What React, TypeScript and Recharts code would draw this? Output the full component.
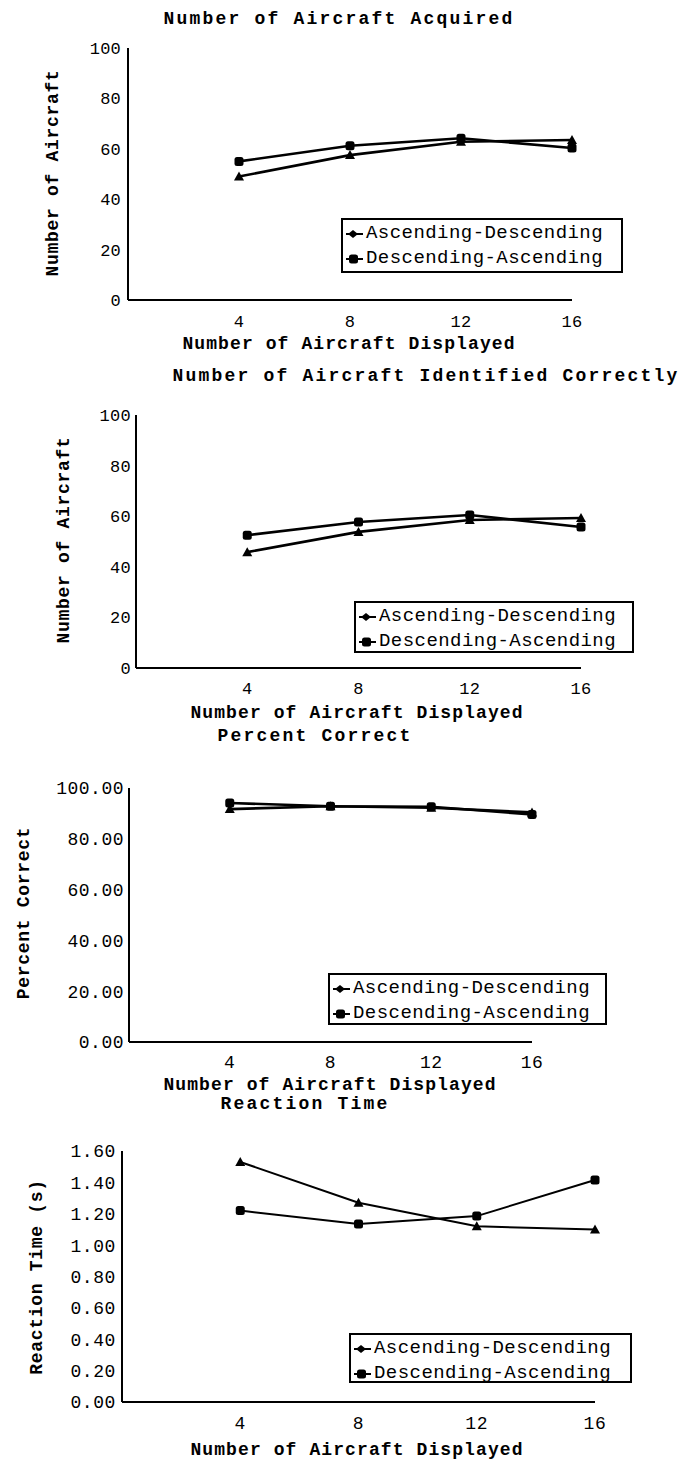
import React from "react";
import { Legend, Line, LineChart, XAxis, YAxis } from "recharts";

// number of aircraft displayed (x axis)
const displayed = [4, 8, 12, 16];
const xTicks = [4, 8, 12, 16];
const countTicks = [0, 20, 40, 60, 80, 100];
const timeTicks = [0, 0.2, 0.4, 0.6, 0.8, 1.0, 1.2, 1.4, 1.6];

const seriesNames = ["Ascending-Descending", "Descending-Ascending"];

const acquiredAscDesc = [49, 57.5, 62.8, 63.5];
const acquiredDescAsc = [55, 61.2, 64.2, 60.3];

const identifiedAscDesc = [45.8, 53.8, 58.5, 59.3];
const identifiedDescAsc = [52.5, 57.7, 60.5, 55.7];

const percentAscDesc = [91.7, 92.8, 92.2, 90.4];
const percentDescAsc = [94.1, 92.8, 92.6, 89.6];

const reactionAscDesc = [1.53, 1.27, 1.12, 1.1];
const reactionDescAsc = [1.22, 1.135, 1.185, 1.415];

const FONT = '"Liberation Mono", "DejaVu Sans Mono", monospace';
const W = 685;

type Row = { n: number; asc: number; desc: number };

const rows = (a: number[], d: number[]): Row[] =>
  displayed.map((n, i) => ({ n, asc: a[i], desc: d[i] }));

function TriDot(props: any) {
  const { cx, cy } = props;
  if (cx == null || cy == null) return null;
  return <path d={`M${cx},${cy - 5} L${cx + 5},${cy + 4} L${cx - 5},${cy + 4} Z`} fill="#000" />;
}

function SquareDot(props: any) {
  const { cx, cy } = props;
  if (cx == null || cy == null) return null;
  return <rect x={cx - 4.5} y={cy - 4.5} width={9} height={9} rx={2.5} fill="#000" />;
}

function LegendBox({ w, h }: { w: number; h: number }) {
  return (
    <div
      style={{
        boxSizing: "border-box",
        width: w,
        height: h,
        border: "2px solid #000",
        background: "#fff",
        fontFamily: FONT,
        fontSize: 19,
        letterSpacing: 0.45,
        color: "#000",
        paddingTop: 1,
        paddingLeft: 1,
      }}
    >
      {seriesNames.map((name, i) => (
        <div key={name} style={{ display: "flex", alignItems: "center", height: 25, lineHeight: 1 }}>
          <svg width={22} height={14} style={{ flex: "none" }}>
            <line x1={2} y1={7} x2={19} y2={7} stroke="#000" strokeWidth={2} />
            {i === 0 ? (
              <path d="M9,3 L14,7 L9,11 L4,7 Z" fill="#000" />
            ) : (
              <rect x={5} y={2.5} width={9} height={9} rx={2.5} fill="#000" />
            )}
          </svg>
          <span>{name}</span>
        </div>
      ))}
    </div>
  );
}

type Box = { left: number; right: number; top: number; bottom: number };

type PanelProps = {
  top: number;
  box: Box;
  domain: [number, number];
  yTicks: number[];
  fmt: (v: number) => string;
  tickFont: number;
  tickSpacing: number;
  xGap: number;
  yGap: number;
  data: Row[];
  legend: Box;
  strokeW: number;
};

function Panel(p: PanelProps) {
  const xAxisH = 45;
  const height = p.box.bottom - p.top + xAxisH;
  const tick = { fill: "#000", fontSize: p.tickFont, fontFamily: FONT, letterSpacing: p.tickSpacing };
  const lw = p.legend.right - p.legend.left;
  const lh = p.legend.bottom - p.legend.top;
  return (
    <div style={{ position: "absolute", left: 0, top: p.top }}>
      <LineChart
        width={W}
        height={height}
        data={p.data}
        margin={{ top: p.box.top - p.top, right: W - p.box.right, bottom: 0, left: 0 }}
      >
        <XAxis
          dataKey="n"
          type="number"
          domain={[0, 16]}
          ticks={xTicks}
          height={xAxisH}
          tickLine={false}
          tickSize={0}
          tickMargin={p.xGap}
          axisLine={{ stroke: "#000", strokeWidth: 2 }}
          tick={tick}
        />
        <YAxis
          type="number"
          domain={p.domain}
          ticks={p.yTicks}
          width={p.box.left}
          tickLine={false}
          tickSize={0}
          tickMargin={p.yGap}
          tickFormatter={p.fmt}
          axisLine={{ stroke: "#000", strokeWidth: 2 }}
          tick={tick}
        />
        <Line
          dataKey="asc"
          name={seriesNames[0]}
          stroke="#000"
          strokeWidth={p.strokeW}
          dot={TriDot}
          isAnimationActive={false}
        />
        <Line
          dataKey="desc"
          name={seriesNames[1]}
          stroke="#000"
          strokeWidth={p.strokeW}
          dot={SquareDot}
          isAnimationActive={false}
        />
        <Legend
          layout="vertical"
          align="center"
          verticalAlign="middle"
          wrapperStyle={{ left: p.legend.left, top: p.legend.top - p.top, width: lw, height: lh }}
          content={() => <LegendBox w={lw} h={lh} />}
        />
      </LineChart>
    </div>
  );
}

function Caption({ x, y, text, size, spacing, rotate }: any) {
  return (
    <div
      style={{
        position: "absolute",
        left: x,
        top: y,
        transform: `translate(-50%, -50%)${rotate ? " rotate(-90deg)" : ""}`,
        whiteSpace: "nowrap",
        fontFamily: FONT,
        fontWeight: "bold",
        fontSize: size,
        letterSpacing: spacing,
        lineHeight: 1,
        color: "#000",
      }}
    >
      {text}
    </div>
  );
}

const xName = "Number of Aircraft Displayed";
const intFmt = (v: number) => String(v);
const decFmt = (v: number) => v.toFixed(2);

export default function App() {
  return (
    <div style={{ position: "absolute", left: 0, top: 0, width: W, height: 1462, background: "#fff" }}>
      <Panel
        top={0}
        box={{ left: 128, right: 572, top: 48, bottom: 300 }}
        domain={[0, 100]}
        yTicks={countTicks}
        fmt={intFmt}
        tickFont={17}
        tickSpacing={0.2}
        xGap={15}
        yGap={7}
        data={rows(acquiredAscDesc, acquiredDescAsc)}
        legend={{ left: 341, right: 623, top: 218, bottom: 273 }}
        strokeW={2.6}
      />
      <Caption x={339} y={19} text="Number of Aircraft Acquired" size={18} spacing={2.2} />
      <Caption x={349} y={344} text={xName} size={18} spacing={1.1} />
      <Caption x={53} y={173} text="Number of Aircraft" size={18} spacing={0.7} rotate />

      <Panel
        top={360}
        box={{ left: 136, right: 581, top: 415, bottom: 668 }}
        domain={[0, 100]}
        yTicks={countTicks}
        fmt={intFmt}
        tickFont={17}
        tickSpacing={0.3}
        xGap={14}
        yGap={5}
        data={rows(identifiedAscDesc, identifiedDescAsc)}
        legend={{ left: 354, right: 634, top: 601, bottom: 653 }}
        strokeW={2.6}
      />
      <Caption x={426} y={376} text="Number of Aircraft Identified Correctly" size={18} spacing={2.2} />
      <Caption x={357} y={713} text={xName} size={18} spacing={1.1} />
      <Caption x={64} y={540} text="Number of Aircraft" size={18} spacing={0.7} rotate />

      <Panel
        top={722}
        box={{ left: 129, right: 532, top: 788, bottom: 1042 }}
        domain={[0, 100]}
        yTicks={countTicks}
        fmt={decFmt}
        tickFont={18}
        tickSpacing={0.5}
        xGap={13.5}
        yGap={5}
        data={rows(percentAscDesc, percentDescAsc)}
        legend={{ left: 328, right: 607, top: 973, bottom: 1025 }}
        strokeW={2.6}
      />
      <Caption x={315} y={736} text="Percent Correct" size={18} spacing={2.2} />
      <Caption x={330} y={1085} text={xName} size={18} spacing={1.1} />
      <Caption x={24} y={913} text="Percent Correct" size={18} spacing={0.7} rotate />

      <Panel
        top={1095}
        box={{ left: 122, right: 595, top: 1151, bottom: 1402 }}
        domain={[0, 1.6]}
        yTicks={timeTicks}
        fmt={decFmt}
        tickFont={18}
        tickSpacing={0.6}
        xGap={14.5}
        yGap={6}
        data={rows(reactionAscDesc, reactionDescAsc)}
        legend={{ left: 349, right: 632, top: 1333, bottom: 1383 }}
        strokeW={2}
      />
      <Caption x={305} y={1104} text="Reaction Time" size={18} spacing={2.2} />
      <Caption x={357} y={1450} text={xName} size={18} spacing={1.1} />
      <Caption x={37} y={1277} text="Reaction Time (s)" size={18} spacing={0.7} rotate />
    </div>
  );
}
